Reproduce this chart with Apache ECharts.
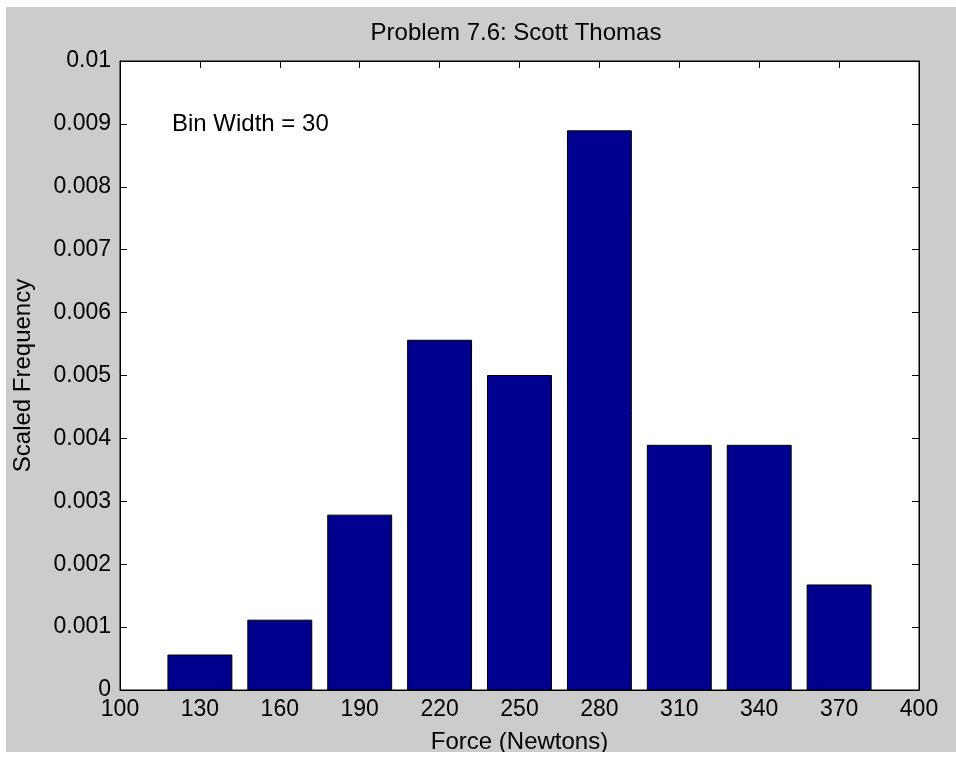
<!DOCTYPE html>
<html>
<head>
<meta charset="utf-8">
<script src="https://cdn.jsdelivr.net/npm/echarts@6/dist/echarts.min.js"></script>
<style>
  html, body { margin: 0; padding: 0; background: #ffffff; width: 956px; height: 761px; overflow: hidden; }
  #chart { position: absolute; left: 6px; top: 7px; width: 950px; height: 745px; }
</style>
</head>
<body>
<div id="chart"></div>
<script>
// Histogram of force measurements, scaled so the bars integrate to 1
const binCenters = [130, 160, 190, 220, 250, 280, 310, 340, 370];
const scaledFreq = [0.000556, 0.00111, 0.00278, 0.00556, 0.005, 0.00889, 0.00389, 0.00389, 0.00167];
const binWidth = 30;
const xTicks = [100, 130, 160, 190, 220, 250, 280, 310, 340, 370, 400];
const yTicks = [0, 0.001, 0.002, 0.003, 0.004, 0.005, 0.006, 0.007, 0.008, 0.009, 0.01];

const FONT = 'Liberation Sans, Arial, sans-serif';
const FS_TICK = 23;
const FS_TEXT = 24;
const barFill = 0.8; // fraction of the bin covered by each bar

const chart = echarts.init(document.getElementById('chart'), null, { renderer: 'canvas' });

const tickTxt = { color: '#000', fontFamily: FONT, fontSize: FS_TICK };
const nameTxt = { color: '#000', fontFamily: FONT, fontSize: FS_TEXT };

const tickCommon = {
  show: true, inside: true, length: 7,
  lineStyle: { color: '#000', width: 1 }
};
const lineCommon = { show: true, onZero: false, lineStyle: { color: '#000', width: 1 } };

chart.setOption({
  backgroundColor: '#cccccc',
  animation: false,
  title: {
    text: 'Problem 7.6: Scott Thomas',
    left: 510, top: 14, textAlign: 'center', padding: 0,
    textStyle: { color: '#000', fontFamily: FONT, fontSize: FS_TEXT, fontWeight: 'normal' }
  },
  grid: {
    left: 114, top: 54, right: 37, bottom: 62,
    outerBoundsMode: 'none',
    show: true, backgroundColor: '#ffffff', borderColor: '#000', borderWidth: 1
  },
  xAxis: [{
    type: 'value', min: xTicks[0], max: xTicks[xTicks.length - 1], interval: 30,
    position: 'bottom',
    name: 'Force (Newtons)', nameLocation: 'middle', nameGap: 40,
    nameTextStyle: nameTxt,
    axisLine: lineCommon,
    axisTick: tickCommon,
    axisLabel: Object.assign({ margin: 8 }, tickTxt),
    splitLine: { show: false }
  }, {
    type: 'value', min: xTicks[0], max: xTicks[xTicks.length - 1], interval: 30,
    position: 'top',
    axisLine: lineCommon,
    axisTick: tickCommon,
    axisLabel: { show: false },
    splitLine: { show: false }
  }],
  yAxis: [{
    type: 'value', min: yTicks[0], max: yTicks[yTicks.length - 1], interval: 0.001,
    position: 'left',
    name: 'Scaled Frequency', nameLocation: 'middle', nameGap: 85,
    nameTextStyle: nameTxt,
    axisLine: lineCommon,
    axisTick: tickCommon,
    axisLabel: Object.assign({ margin: 9, formatter: v => String(parseFloat(v.toFixed(4))) }, tickTxt),
    splitLine: { show: false }
  }, {
    type: 'value', min: yTicks[0], max: yTicks[yTicks.length - 1], interval: 0.001,
    position: 'right',
    axisLine: lineCommon,
    axisTick: tickCommon,
    axisLabel: { show: false },
    splitLine: { show: false }
  }],
  series: [{
    type: 'custom',
    xAxisIndex: 0, yAxisIndex: 0,
    data: binCenters.map((c, i) => [c, scaledFreq[i]]),
    renderItem: function (params, api) {
      const c = api.value(0), v = api.value(1);
      const half = binWidth * barFill / 2;
      const p0 = api.coord([c - half, v]);
      const p1 = api.coord([c + half, 0]);
      return {
        type: 'rect',
        shape: { x: p0[0], y: p0[1], width: p1[0] - p0[0], height: p1[1] - p0[1] },
        style: { fill: '#00008f', stroke: '#000', lineWidth: 1 }
      };
    }
  }],
  graphic: [{
    type: 'text',
    left: 166, top: 105,
    style: { text: 'Bin Width = 30', fill: '#000', font: FS_TEXT + 'px ' + FONT }
  }]
});
</script>
</body>
</html>
